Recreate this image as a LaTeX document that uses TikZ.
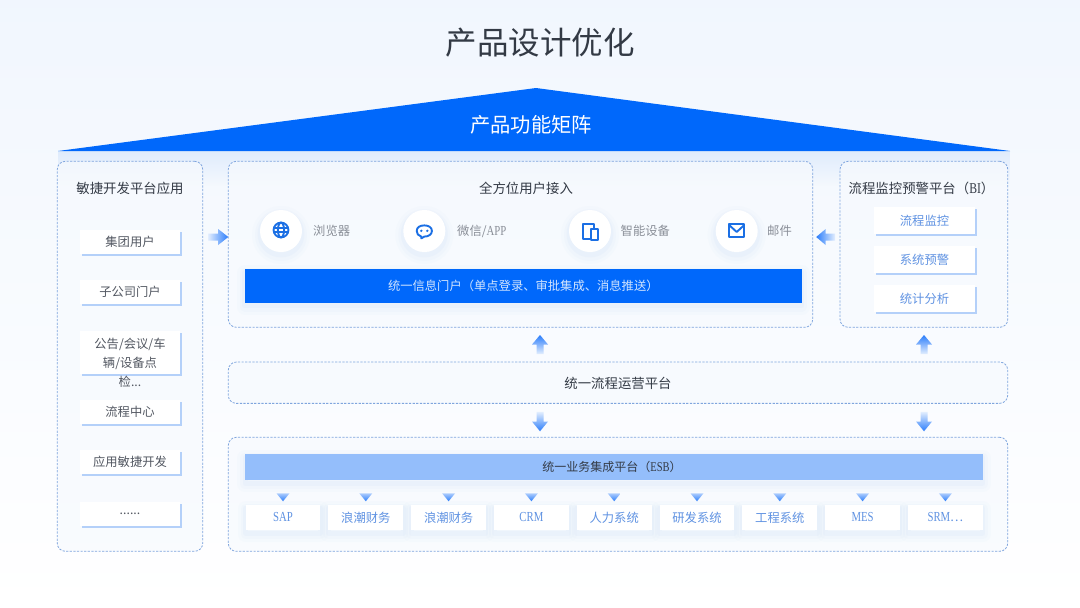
\documentclass[tikz,border=0pt]{standalone}
\usepackage{fontspec}
\setmainfont{Noto Sans CJK SC}
\newfontfamily\narrowlatin[Scale=1.12,FakeStretch=.78]{Liberation Serif}
\usetikzlibrary{shapes,arrows,positioning,calc,shadows,fadings}

\definecolor{brand}{HTML}{0068FB}
\definecolor{barlight}{HTML}{94BEFB}
\definecolor{edge}{HTML}{7FA5DE}
\definecolor{panelbg}{HTML}{F7FAFE}
\definecolor{halo}{HTML}{BCD6FA}
\definecolor{hardshade}{HTML}{B4D0F9}
\definecolor{inkdark}{HTML}{333A45}
\definecolor{inkgray}{HTML}{8A8F98}
\definecolor{inkblue}{HTML}{5F92E2}
\definecolor{iconblue}{HTML}{1B6FE4}
\definecolor{fadeblue}{HTML}{E3EEFE}
\definecolor{tipblue}{HTML}{2B7DFB}

\newcommand{\flowarrow}[3]{
    \coordinate (neck) at ($(#2)!0.5!(#3)$);
    \shade[#1] ($(#2)!3.5pt!90:(#3)$) -- ($(neck)!3.5pt!90:(#3)$) -- ($(neck)!8pt!90:(#3)$) -- (#3)
        -- ($(neck)!8pt!-90:(#3)$) -- ($(neck)!3.5pt!-90:(#3)$) -- ($(#2)!3.5pt!-90:(#3)$) -- cycle;
}
\newcommand{\fs}[1]{\fontsize{#1}{#1}\selectfont}

\begin{document}
\begin{tikzpicture}[x=1pt, y=-1pt, >=latex',
    softglow/.style={
        preaction={draw=#1, draw opacity=.05, line width=16pt, line join=round, transform canvas={yshift=-4pt}},
        preaction={draw=#1, draw opacity=.07, line width=10pt, line join=round, transform canvas={yshift=-4pt}},
        preaction={draw=#1, draw opacity=.10, line width=5pt, line join=round, transform canvas={yshift=-3pt}}},
    panel/.style={rectangle, draw=edge, line width=.8pt, dash pattern=on 2.2pt off 1.4pt, rounded corners=8pt, fill=panelbg, fill opacity=.7, text opacity=1, inner sep=0pt, outer sep=0pt},
    head/.style={font=\fs{13.4}, text=inkdark, inner sep=0pt},
    leafbox/.style={rectangle, fill=white, minimum width=100pt, minimum height=24pt, inner sep=0pt, outer sep=0pt, align=center, font=\fs{12.3}, text=inkdark!85,
        drop shadow={shadow xshift=2pt, shadow yshift=-2pt, fill=hardshade, opacity=1}},
    watchbox/.style={leafbox, minimum width=101pt, minimum height=27pt, text=inkblue},
    sysbox/.style={rectangle, fill=white, softglow=halo, minimum width=74.7pt, minimum height=25pt, inner sep=0pt, outer sep=0pt, font=\fs{12.3}, text=inkblue},
    iconbg/.style={circle, fill=white, softglow=halo, minimum size=42pt, inner sep=0pt, outer sep=0pt},
    iconlbl/.style={font=\fs{12.3}, text=inkgray, inner sep=0pt},
    glyph/.style={draw=iconblue, line width=1.9pt, line join=round},
    flowright/.style={left color=fadeblue, middle color=tipblue!55!fadeblue, right color=tipblue},
    flowleft/.style={right color=fadeblue, middle color=tipblue!55!fadeblue, left color=tipblue},
    flowup/.style={bottom color=fadeblue, middle color=tipblue!55!fadeblue, top color=tipblue},
    flowdown/.style={top color=fadeblue, middle color=tipblue!55!fadeblue, bottom color=tipblue},
    dropfade/.style={top color=tipblue!30!fadeblue, bottom color=tipblue}]

    \useasboundingbox (0,0) rectangle (1080,608);
    \shade[top color=panelbg!70!fadeblue, bottom color=white] (0,0) rectangle (1080,608);

    % roof
    \fill[halo, opacity=.38, path fading=south] (58,151) rectangle (1010,186);
    \node [inner sep=0pt, font=\fs{31.5}, text=inkdark] (title) at (540,43) {产品设计优化};
    \coordinate (roofL) at (58,151);
    \coordinate (roofT) at (536,88);
    \coordinate (roofR) at (1010,151);
    \fill[brand] (roofL) -- (roofT) -- (roofR) -- cycle;
    \node [inner sep=0pt, font=\fs{20.3}, text=white] (matrix) at (531,124.7) {产品功能矩阵};

    % panels
    \node [panel, minimum width=145.4pt, minimum height=390pt] (agile) at (130,356.3) {};
    \node [panel, minimum width=584.4pt, minimum height=166pt] (access) at (520.5,244.3) {};
    \node [panel, minimum width=167.7pt, minimum height=166pt] (monitor) at (923.9,244.3) {};
    \node [panel, minimum width=779.4pt, minimum height=41.3pt] (ops) at (618,382.7) {};
    \node [panel, minimum width=779.4pt, minimum height=114pt] (bus) at (618,494.3) {};

    % left column
    \node [head] (agilehd) at (130,188) {敏捷开发平台应用};
    \node [leafbox] (group) at (130,242) {集团用户};
    \node [leafbox, below=26pt of group] (branch) {子公司门户};
    \node [leafbox, below=27pt of branch, minimum height=43pt] (notice) {};
    \node [inner sep=0pt, align=center, font=\fs{12.3}, text=inkdark!85] (noticetxt) at (130,362.5) {公告/会议/车\\[5.2pt]辆/设备点\\[5.2pt]检...};
    \node [leafbox, below=26pt of notice] (center) {流程中心};
    \node [leafbox, below=26pt of center] (devkit) {应用敏捷开发};
    \node [leafbox, below=28pt of devkit] (more) {......};

    % access panel
    \node [head] (accesshd) at (526,188) {全方位用户接入};
    \node [iconbg] (web) at (281,231) {};
    \node [iconbg] (chat) at (424.3,231) {};
    \node [iconbg] (device) at (590,231) {};
    \node [iconbg] (mail) at (736.7,231) {};
    \node [iconlbl, right=11pt of web] (weblbl) {浏览器};
    \node [iconlbl, right=11.7pt of chat] (chatlbl) {微信/{\narrowlatin APP}};
    \node [iconlbl, right=9.5pt of device] (devicelbl) {智能设备};
    \node [iconlbl, right=9.3pt of mail] (maillbl) {邮件};
    \node [rectangle, fill=brand, softglow=halo, minimum width=556.7pt, minimum height=33.4pt, inner sep=0pt, font=\fs{12.3}, text=white!82!brand] (portal) at (523.3,286) {统一信息门户（单点登录、审批集成、消息推送）};

    % icon glyphs
    \begin{scope}[shift={(web.center)}]
        \draw[glyph] (0,-1) circle (7.4);
        \draw[glyph] (0,-1) ellipse (3.1 and 7.4);
        \draw[glyph] (-7.4,-3.4) -- (7.4,-3.4) (-7.4,1.4) -- (7.4,1.4);
    \end{scope}
    \begin{scope}[shift={(chat.center)}]
        \draw[glyph] (-3,5.6) .. controls (-6,4.8) and (-7.6,2.6) .. (-7.6,0) .. controls (-7.6,-3.8) and (-4.2,-5.6) .. (0,-5.6)
            .. controls (4.2,-5.6) and (7.6,-3.8) .. (7.6,0) .. controls (7.6,3.4) and (4.2,5.6) .. (0,5.6) -- (-3,7.4) -- cycle;
        \fill[iconblue] (-3,-.2) circle (1.3) (3,-.2) circle (1.3);
    \end{scope}
    \begin{scope}[shift={(device.center)}]
        \draw[glyph] (0,7.6) -- (-7.3,7.6) -- (-7.3,-7.3) -- (4,-7.3) -- (4,-2);
        \draw[glyph] (1.2,-1.8) rectangle (8.4,8.6);
    \end{scope}
    \begin{scope}[shift={(mail.center)}]
        \draw[glyph] (-7.6,-7) rectangle (7.6,6);
        \draw[glyph] (-7.6,-6) -- (0,1) -- (7.6,-6);
    \end{scope}

    % monitor panel
    \node [head] (monitorhd) at (921.5,188) {流程监控预警平台（{\narrowlatin BI}）};
    \node [watchbox] (watch) at (924.5,220.8) {流程监控};
    \node [watchbox, below=11.5pt of watch] (warn) {系统预警};
    \node [watchbox, below=12.5pt of warn] (stats) {统计分析};

    % middle and bottom
    \node [head] (opshd) at (618,383) {统一流程运营平台};
    \node [rectangle, fill=barlight, softglow=halo, minimum width=737.7pt, minimum height=26pt, inner sep=0pt, font=\fs{12}, text=inkdark] (esb) at (613.9,467) {};
    \node [inner sep=0pt, font=\fs{12}, text=inkdark] (esbtxt) at (612,467) {统一业务集成平台（{\narrowlatin ESB}）};
    \node [sysbox] (sap) at (283,517.5) {\narrowlatin SAP};
    \node [sysbox, right=8.1pt of sap] (fina) {浪潮财务};
    \node [sysbox, right=8.1pt of fina] (finb) {浪潮财务};
    \node [sysbox, right=8.1pt of finb] (crm) {\narrowlatin CRM};
    \node [sysbox, right=8.1pt of crm] (hr) {人力系统};
    \node [sysbox, right=8.1pt of hr] (rd) {研发系统};
    \node [sysbox, right=8.1pt of rd] (eng) {工程系统};
    \node [sysbox, right=8.1pt of eng] (mes) {\narrowlatin MES};
    \node [sysbox, right=8.1pt of mes] (srm) {{\narrowlatin SRM}⋯};
    \foreach \n in {sap,fina,finb,crm,hr,rd,eng,mes,srm}
        \shade[dropfade] ($(\n.north)+(-6.5pt,11.7pt)$) -- ($(\n.north)+(6.5pt,11.7pt)$) -- ($(\n.north)+(0,3.7pt)$) -- cycle;

    % flow arrows
    \coordinate (rowY) at (0,237);
    \coordinate (hubA) at (540,0);
    \coordinate (hubB) at (924,0);
    \coordinate (agileout) at ($(agile.east |- rowY)+(5.3pt,0)$);
    \coordinate (accessin) at (access.west |- rowY);
    \coordinate (monitorout) at ($(monitor.west |- rowY)+(-5pt,0)$);
    \coordinate (accessinb) at ($(access.east |- rowY)+(3.5pt,0)$);
    \flowarrow{flowright}{agileout}{accessin}
    \flowarrow{flowleft}{monitorout}{accessinb}
    \foreach \h/\t in {hubA/access,hubB/monitor}{
        \coordinate (opsup) at ($(ops.north -| \h)+(0,8pt)$);
        \coordinate (upend) at ($(\t.south -| \h)+(0,-7.7pt)$);
        \flowarrow{flowup}{opsup}{upend}
        \coordinate (opsdn) at ($(ops.south -| \h)+(0,-8.4pt)$);
        \coordinate (dnend) at ($(bus.north -| \h)+(0,6pt)$);
        \flowarrow{flowdown}{opsdn}{dnend}
    }
\end{tikzpicture}
\end{document}
